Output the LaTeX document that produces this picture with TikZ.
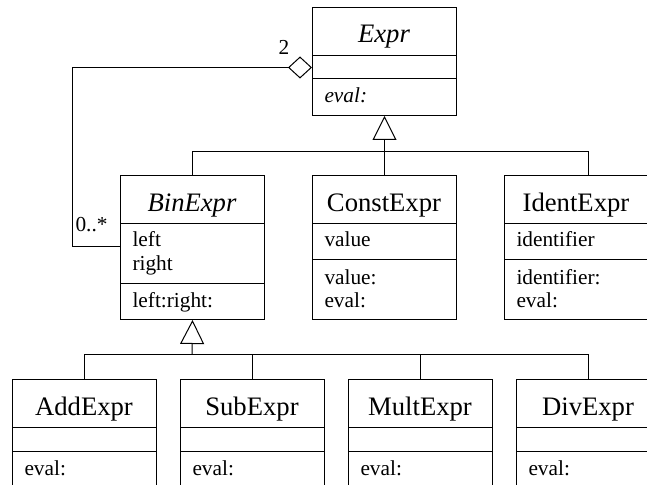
\documentclass[tikz,border=0pt]{standalone}
\usepackage{fontspec}
\setmainfont{Liberation Serif}
\usetikzlibrary{arrows.meta}
\tikzset{
  cls/.style={draw, rectangle, inner sep=0pt, anchor=north west, minimum width=108pt},
  cname/.style={anchor=base, inner sep=0pt, font=\fontsize{20}{24}\selectfont},
  mem/.style={anchor=base west, inner sep=0pt, font=\fontsize{16}{18}\selectfont},
  inh/.style={-{Triangle[open,length=18pt,width=18pt]}},
  agg/.style={{Diamond[open,length=18pt,width=16.5pt]}-},
}
\begin{document}
\begin{tikzpicture}[x=0.75pt,y=-0.75pt,line width=0.75pt]
\useasboundingbox (0,0) rectangle (647,485);
\clip (0,0) rectangle (647,485);
% class boxes
\node[cls, minimum height=81pt] (expr) at (312,7) {};
\node[cls, minimum height=108pt] (bin) at (120,175) {};
\node[cls, minimum height=108pt] (const) at (312,175) {};
\node[cls, minimum height=108pt] (ident) at (504,175) {};
\node[cls, minimum height=105pt] (add) at (12,379) {};
\node[cls, minimum height=105pt] (sub) at (180,379) {};
\node[cls, minimum height=105pt] (mult) at (348,379) {};
\node[cls, minimum height=105pt] (div) at (516,379) {};
% dividers
\draw (expr.west |- 0,56) -- (expr.east |- 0,56);
\draw (expr.west |- 0,79) -- (expr.east |- 0,79);
\draw (bin.west |- 0,223) -- (bin.east |- 0,223);
\draw (bin.west |- 0,283) -- (bin.east |- 0,283);
\draw (const.west |- 0,223) -- (const.east |- 0,223);
\draw (const.west |- 0,259) -- (const.east |- 0,259);
\draw (ident.west |- 0,223) -- (ident.east |- 0,223);
\draw (ident.west |- 0,259) -- (ident.east |- 0,259);
\foreach \c in {add,sub,mult,div}{
  \draw (\c.west |- 0,427) -- (\c.east |- 0,427);
  \draw (\c.west |- 0,451) -- (\c.east |- 0,451);
}
% texts
\node[cname] (tExpr) at (384,43) {\itshape Expr};
\node[mem] (tExprEval) at (324,103) {\itshape eval:};
\node[cname] (tBin) at (192,211) {\itshape BinExpr};
\node[mem] (tBinL) at (132,247) {left};
\node[mem] (tBinR) at (132,270) {right};
\node[mem] (tBinLR) at (132,307) {left:right:};
\node[cname] (tConst) at (384,211) {ConstExpr};
\node[mem] (tConstV) at (324,247) {value};
\node[mem] (tConstV2) at (324,284) {value:};
\node[mem] (tConstE) at (324,307) {eval:};
\node[cname] (tIdent) at (576,211) {IdentExpr};
\node[mem] (tIdentI) at (516,247) {identifier};
\node[mem] (tIdentI2) at (516,284) {identifier:};
\node[mem] (tIdentE) at (516,307) {eval:};
\node[cname] (tAdd) at (84,415) {AddExpr};
\node[mem] (tAddE) at (24,475) {eval:};
\node[cname] (tSub) at (252,415) {SubExpr};
\node[mem] (tSubE) at (192,475) {eval:};
\node[cname] (tMult) at (420,415) {MultExpr};
\node[mem] (tMultE) at (360,475) {eval:};
\node[cname] (tDiv) at (588,415) {DivExpr};
\node[mem] (tDivE) at (528,475) {eval:};
% multiplicities
\node[mem] (m2) at (278,55) {2};
\node[mem] (m0) at (75,231.7) {0..*};
% generalization to Expr
\coordinate (jTop) at (384,151.5);
\draw[inh] (const.north) -- (expr.south);
\draw (bin.north) |- (jTop) -| ([xshift=9pt]ident.north);
% generalization to BinExpr
\coordinate (jBot) at (192,354.5);
\draw[inh] (jBot) -- (bin.south);
\draw (add.north) |- (jBot) -| (div.north);
\draw (sub.north) -- (sub.north |- jBot);
\draw (mult.north) -- (mult.north |- jBot);
% aggregation
\coordinate (eAgg) at (312,67.5);
\coordinate (bAgg) at (120,246.7);
\draw[agg] (eAgg) -- (72.5,67.5) |- (bAgg);
\end{tikzpicture}
\end{document}
